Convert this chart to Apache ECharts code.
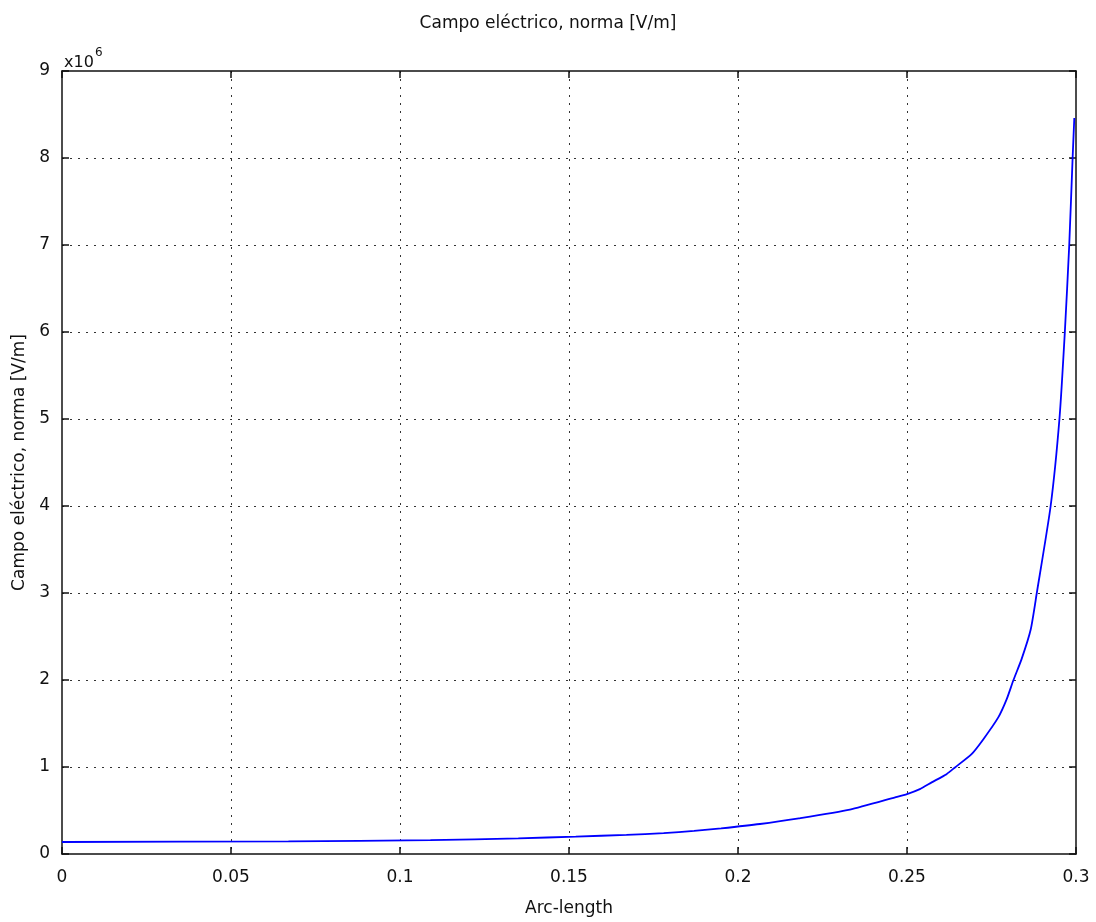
<!DOCTYPE html>
<html>
<head>
<meta charset="utf-8">
<script src="https://cdn.jsdelivr.net/npm/echarts@6/dist/echarts.min.js"></script>
<style>html,body{margin:0;padding:0;background:#fff}#c{width:1096px;height:922px}</style>
</head>
<body>
<div id="c"></div>
<script>
const titleText = 'Campo eléctrico, norma [V/m]';
const xName = 'Arc-length';
const yName = 'Campo eléctrico, norma [V/m]';
const xTicks = [0, 0.05, 0.1, 0.15, 0.2, 0.25, 0.3];
const yTicks = [0, 1, 2, 3, 4, 5, 6, 7, 8, 9];
const yExponent = '6';
// arc-length values
const arcLength = [0, 0.067, 0.109, 0.135, 0.152, 0.167, 0.178, 0.187, 0.195, 0.2065, 0.218, 0.2331, 0.2465, 0.25, 0.2538, 0.2573, 0.2617, 0.2642, 0.2691, 0.2726, 0.277, 0.2795, 0.2815, 0.2839, 0.2866, 0.2884, 0.2925, 0.2951, 0.2967, 0.298, 0.299, 0.2995];
// field norm values, in units of 1e6 V/m
const fieldNorm = [0.138, 0.145, 0.16, 0.18, 0.2, 0.22, 0.24, 0.265, 0.295, 0.345, 0.41, 0.51, 0.651, 0.689, 0.746, 0.823, 0.918, 0.995, 1.148, 1.32, 1.57, 1.78, 2.0, 2.24, 2.58, 3.0, 4.0, 5.0, 6.0, 7.0, 8.0, 8.46];

const font = 'DejaVu Sans';
const fs = 17;
const chart = echarts.init(document.getElementById('c'), null, {renderer: 'canvas'});
const gridLine = {show: true, showMinLine: false, showMaxLine: false, lineStyle: {color: '#333', type: [2, 6], width: 1}};
const tickStyle = {show: true, inside: true, length: 7, lineStyle: {color: '#111', width: 1.5}};
const axisLine = {show: true, onZero: false, lineStyle: {color: '#111', width: 1.5}};
chart.setOption({
  animation: false,
  backgroundColor: '#fff',
  title: {text: titleText, left: 'center', top: 10, textStyle: {fontFamily: font, fontSize: fs, fontWeight: 'normal', color: '#111'}},
  grid: {left: 62, right: 20, top: 71, bottom: 67},
  xAxis: [{
    type: 'value', position: 'bottom', min: 0, max: 0.3, interval: 0.05,
    name: xName, nameLocation: 'middle', nameGap: 46,
    nameTextStyle: {fontFamily: font, fontSize: fs, color: '#111'},
    axisLine: axisLine,
    axisTick: tickStyle,
    axisLabel: {fontFamily: font, fontSize: fs, color: '#111', margin: 15, formatter: v => String(+v.toFixed(2))},
    splitLine: gridLine
  }, {
    type: 'value', position: 'top', min: 0, max: 0.3, interval: 0.05,
    axisLine: axisLine,
    axisTick: tickStyle, axisLabel: {show: false}, splitLine: {show: false}
  }],
  yAxis: [{
    type: 'value', position: 'left', min: 0, max: 9, interval: 1,
    name: yName, nameLocation: 'middle', nameGap: 34,
    nameTextStyle: {fontFamily: font, fontSize: fs, color: '#111'},
    axisLine: axisLine,
    axisTick: tickStyle,
    axisLabel: {fontFamily: font, fontSize: fs, color: '#111', margin: 12},
    splitLine: gridLine
  }, {
    type: 'value', position: 'right', min: 0, max: 9, interval: 1,
    axisLine: axisLine,
    axisTick: tickStyle, axisLabel: {show: false}, splitLine: {show: false}
  }],
  graphic: [
    {type: 'text', left: 64, top: 55, z: 10, style: {text: 'x10', fontFamily: font, fontSize: 16, fill: '#111'}},
    {type: 'text', left: 95, top: 47, z: 10, style: {text: yExponent, fontFamily: font, fontSize: 12, fill: '#111'}}
  ],
  series: [{
    type: 'line',
    data: arcLength.map((x, i) => [x, fieldNorm[i]]),
    showSymbol: false,
    smooth: 0.2,
    lineStyle: {color: '#0000ff', width: 1.8},
    silent: true,
    z: 3
  }]
});
</script>
</body>
</html>
